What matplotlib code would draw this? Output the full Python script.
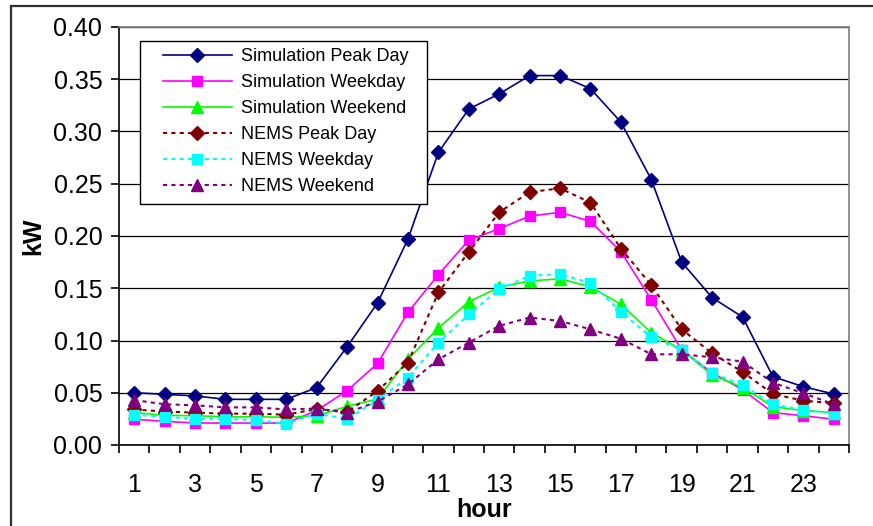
import matplotlib.pyplot as plt
from matplotlib.patches import Rectangle

plt.rcParams["font.family"] = ["Liberation Sans", "DejaVu Sans"]

# 数据
hours = list(range(1, 25))
sim_peak = [0.050, 0.0485, 0.047, 0.0437, 0.0437, 0.0437, 0.055, 0.094, 0.136, 0.197, 0.280, 0.3215,
            0.336, 0.3535, 0.3535, 0.341, 0.309, 0.254, 0.175, 0.141, 0.1225, 0.0654, 0.0558, 0.0488]
sim_weekday = [0.0246, 0.0227, 0.021, 0.021, 0.021, 0.021, 0.033, 0.052, 0.078, 0.127, 0.163, 0.196,
               0.207, 0.219, 0.2227, 0.214, 0.185, 0.139, 0.091, 0.069, 0.053, 0.031, 0.028, 0.0246]
sim_weekend = [0.031, 0.0284, 0.028, 0.027, 0.027, 0.0265, 0.028, 0.037, 0.044, 0.082, 0.112, 0.137,
               0.151, 0.157, 0.159, 0.1515, 0.1346, 0.1075, 0.091, 0.067, 0.055, 0.0367, 0.033, 0.031]
nems_peak = [0.034, 0.032, 0.031, 0.030, 0.030, 0.029, 0.0344, 0.0316, 0.0517, 0.0788, 0.146, 0.1847,
             0.2227, 0.242, 0.2456, 0.232, 0.188, 0.153, 0.1107, 0.0877, 0.0699, 0.0488, 0.0424, 0.040]
nems_weekday = [0.029, 0.027, 0.025, 0.0246, 0.024, 0.0204, 0.030, 0.025, 0.043, 0.0644, 0.098, 0.125,
                0.149, 0.162, 0.1636, 0.155, 0.1276, 0.103, 0.091, 0.069, 0.0574, 0.039, 0.0335, 0.030]
nems_weekend = [0.043, 0.039, 0.038, 0.036, 0.036, 0.034, 0.0348, 0.031, 0.0415, 0.058, 0.082, 0.098,
                0.114, 0.122, 0.1187, 0.1107, 0.1017, 0.0868, 0.0868, 0.084, 0.0797, 0.0596, 0.0495, 0.039]
labels = ["Simulation Peak Day", "Simulation Weekday", "Simulation Weekend",
          "NEMS Peak Day", "NEMS Weekday", "NEMS Weekend"]

fig = plt.figure(figsize=(8.73, 5.26), dpi=100)
ax = fig.add_axes([119 / 873, 1 - 445 / 526, 730 / 873, 418 / 526])

# 外框
fig.patches.append(Rectangle((11 / 873, -0.1), 1.2, 1.1 - 6 / 526,
                             transform=fig.transFigure, fill=False,
                             edgecolor="#303030", lw=1.6, clip_on=False))

dot = (0, (2, 2))
ax.plot(hours, sim_peak, color="#000080", marker="D", ms=7, lw=1.2, label=labels[0])
ax.plot(hours, sim_weekday, color="#FF00FF", marker="s", ms=7.5, lw=1.2, label=labels[1])
ax.plot(hours, sim_weekend, color="#00FF00", marker="^", ms=8, lw=1.2, label=labels[2])
ax.plot(hours, nems_peak, color="#800000", marker="D", ms=7, lw=1.5, ls=dot, label=labels[3])
ax.plot(hours, nems_weekday, color="#00FFFF", marker="s", ms=7.5, lw=1.5, ls=dot, label=labels[4])
ax.plot(hours, nems_weekend, color="#800080", marker="^", ms=8, lw=1.5, ls=dot, label=labels[5])

ax.set_xlim(0.5, 24.5)
ax.set_ylim(0, 0.40)
ax.set_yticks([i * 0.05 for i in range(9)])
ax.set_yticklabels(["%.2f" % (i * 0.05) for i in range(9)], fontsize=18)
ax.set_xticks(list(range(1, 25, 2)))
ax.set_xticklabels([str(h) for h in range(1, 25, 2)], fontsize=18)
ax.set_xticks([i + 0.5 for i in range(25)], minor=True)
ax.tick_params(axis="x", which="major", length=0, pad=20)
ax.tick_params(axis="x", which="minor", length=6, width=1.2, direction="out")
ax.tick_params(axis="y", length=6, width=1.2, pad=6)

ax.grid(axis="y", color="black", lw=0.9)
ax.set_axisbelow(True)
for s in ["left", "bottom"]:
    ax.spines[s].set_color("black")
    ax.spines[s].set_linewidth(1.2)
for s in ["top", "right"]:
    ax.spines[s].set_color("#808080")
    ax.spines[s].set_linewidth(1.2)

ax.set_xlabel("hour", fontsize=18, fontweight="bold", labelpad=1)
ax.set_ylabel("kW", fontsize=18, fontweight="bold", labelpad=6)

# 图例框
ax.add_patch(Rectangle((21 / 730, 241 / 418), 287 / 730, 163 / 418, transform=ax.transAxes,
                       facecolor="white", edgecolor="black", lw=1.0, zorder=4))
leg = ax.legend(loc="upper left", bbox_to_anchor=(44 / 730, 397 / 418), borderaxespad=0,
                fontsize=13, frameon=False, handlelength=3.8, handletextpad=0.5,
                labelspacing=0.5, borderpad=0)
leg.set_zorder(5)

plt.savefig("out.png", dpi=100)
